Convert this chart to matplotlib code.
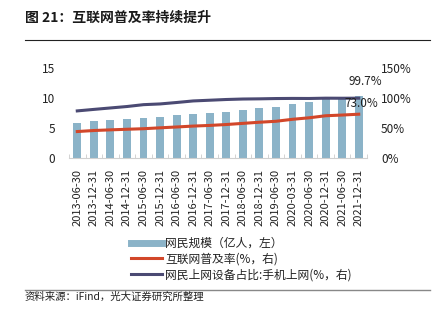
import matplotlib
matplotlib.use("Agg")
import matplotlib.pyplot as plt
from matplotlib.lines import Line2D
import numpy as np

plt.rcParams['font.family'] = ['Noto Sans CJK SC', 'DejaVu Sans']

dates = ["2013-06-30", "2013-12-31", "2014-06-30", "2014-12-31", "2015-06-30",
         "2015-12-31", "2016-06-30", "2016-12-31", "2017-06-30", "2017-12-31",
         "2018-06-30", "2018-12-31", "2019-06-30", "2020-03-31", "2020-06-30",
         "2020-12-31", "2021-06-30", "2021-12-31"]
netizens = [5.91, 6.18, 6.32, 6.49, 6.68, 6.88, 7.10, 7.31, 7.51, 7.72,
            8.02, 8.29, 8.54, 9.04, 9.40, 9.89, 10.11, 10.32]
penetration = [44.1, 45.8, 46.9, 47.9, 48.8, 50.3, 51.7, 53.2, 54.3, 55.8,
               57.7, 59.6, 61.2, 64.5, 67.0, 70.4, 71.6, 73.0]
mobile_share = [78.5, 81.0, 83.4, 85.8, 88.9, 90.1, 92.5, 95.1, 96.3, 97.5,
                98.3, 98.6, 99.1, 99.3, 99.2, 99.7, 99.6, 99.7]
left_ticks = [0, 5, 10, 15]
right_ticks = [0, 50, 100, 150]

bar_color = "#8bb3c8"
red = "#d2472a"
navy = "#4b4a73"
txt = "#222222"

fig = plt.figure(figsize=(4.41, 3.22), dpi=100)
W, H = 441, 322
ax = fig.add_axes([69 / W, 1 - 158 / H, (367 - 69) / W, 90 / H])
ax2 = ax.twinx()

x = np.arange(len(dates))
ax.bar(x, netizens, width=0.47, color=bar_color, zorder=2)
ax2.plot(x, penetration, color=red, lw=2.2, zorder=3)
ax2.plot(x, mobile_share, color=navy, lw=2.2, zorder=3)

ax.set_ylim(0, 15)
ax2.set_ylim(0, 150)
ax.set_xlim(-0.5, len(dates) - 0.5)
ax.set_yticks(left_ticks)
ax2.set_yticks(right_ticks)
ax2.set_yticklabels([f"{v}%" for v in right_ticks])
ax.set_xticks(x)
ax.set_xticklabels(dates, rotation=90, fontsize=8, color=txt)
ax.set_xticks(np.arange(-0.5, len(dates), 1), minor=True)
ax.tick_params(axis='x', which='major', length=0, pad=8)
ax.tick_params(axis='x', which='minor', length=3, color="#cccccc", direction='in')
ax.tick_params(axis='y', length=0, labelsize=8.5, labelcolor=txt, pad=10)
ax2.tick_params(axis='y', length=0, labelsize=8.5, labelcolor=txt, pad=10)

for a in (ax, ax2):
    for s in ("top", "left", "right"):
        a.spines[s].set_visible(False)
ax.spines["bottom"].set_color("#d0d0d0")
ax2.spines["bottom"].set_visible(False)

ax2.annotate(f"{mobile_share[-1]:.1f}%", (x[-1], mobile_share[-1]),
             xytext=(5, 12), textcoords="offset points", fontsize=8.5,
             color=txt, ha="center", va="center")
ax2.annotate(f"{penetration[-1]:.1f}%", (x[-1], penetration[-1]),
             xytext=(2, 8), textcoords="offset points", fontsize=8.5,
             color=txt, ha="center", va="center")

handles = [Line2D([], [], color=bar_color, lw=5),
           Line2D([], [], color=red, lw=2.2),
           Line2D([], [], color=navy, lw=2.2)]
labels = ["网民规模（亿人，左）", "互联网普及率(%，右)", "网民上网设备占比:手机上网(%，右)"]
fig.legend(handles, labels, loc="upper left", bbox_to_anchor=(131 / W, 1 - 237 / H),
           frameon=False, fontsize=8.5, handlelength=2.6, handletextpad=0.3,
           labelspacing=0.22, borderaxespad=0, borderpad=0, labelcolor=txt)

fig.text(25 / W, 1 - 18 / H, "图 21：互联网普及率持续提升", fontsize=10,
         fontweight="bold", color="#1a1a1a", va="center", ha="left")
fig.add_artist(Line2D([25 / W, 430 / W], [1 - 40 / H, 1 - 40 / H],
                      color="#222222", lw=0.8))
fig.add_artist(Line2D([25 / W, 430 / W], [1 - 290 / H, 1 - 290 / H],
                      color="#888888", lw=1.0))
fig.text(25 / W, 1 - 297 / H, "资料来源：iFind，光大证券研究所整理", fontsize=7.5,
         color=txt, va="center", ha="left")

fig.savefig("out.png", dpi=100)
